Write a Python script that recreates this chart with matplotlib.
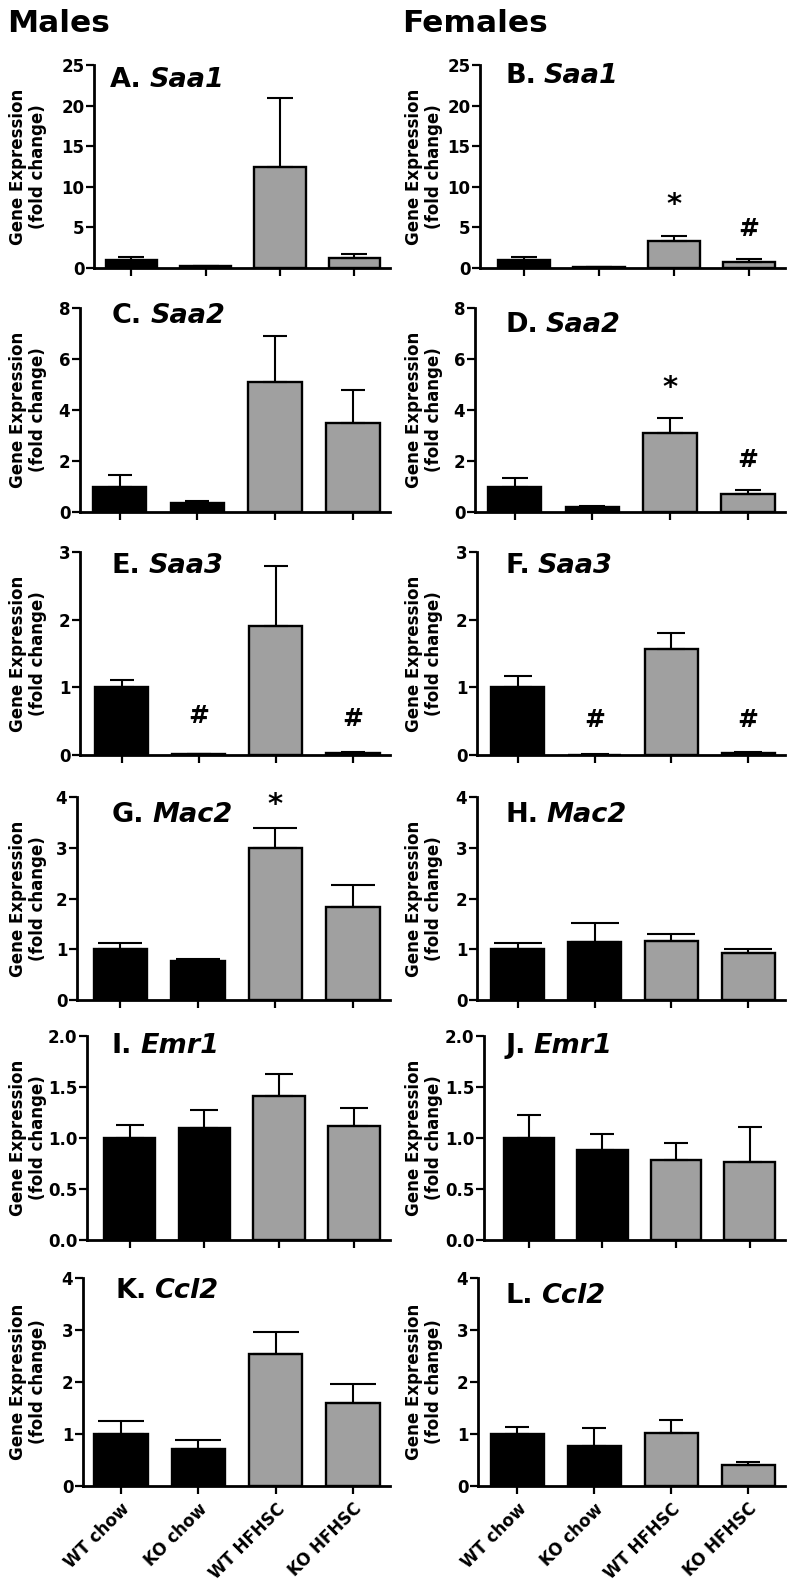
import matplotlib
matplotlib.use('Agg')
import matplotlib.pyplot as plt
import numpy as np

plt.rcParams['font.family'] = 'DejaVu Sans'
plt.rcParams['font.weight'] = 'bold'

# groups on the x axis
groups = ['WT chow', 'KO chow', 'WT HFHSC', 'KO HFHSC']
bar_colors = ['black', 'black', '#a0a0a0', '#a0a0a0']

# mean fold change and SEM (upper only)
saa1_m = [1.0, 0.25, 12.5, 1.2]
saa1_m_err = [0.4, 0.05, 8.4, 0.5]
saa1_f = [1.0, 0.1, 3.3, 0.75]
saa1_f_err = [0.3, 0.03, 0.65, 0.3]

saa2_m = [1.0, 0.35, 5.1, 3.5]
saa2_m_err = [0.45, 0.08, 1.8, 1.3]
saa2_f = [1.0, 0.2, 3.1, 0.7]
saa2_f_err = [0.32, 0.03, 0.6, 0.15]

saa3_m = [1.0, 0.01, 1.9, 0.03]
saa3_m_err = [0.11, 0.005, 0.9, 0.015]
saa3_f = [1.0, 0.005, 1.57, 0.03]
saa3_f_err = [0.17, 0.003, 0.23, 0.02]

mac2_m = [1.0, 0.77, 3.0, 1.84]
mac2_m_err = [0.12, 0.03, 0.39, 0.43]
mac2_f = [1.0, 1.15, 1.17, 0.92]
mac2_f_err = [0.12, 0.36, 0.14, 0.09]

emr1_m = [1.0, 1.1, 1.41, 1.12]
emr1_m_err = [0.13, 0.17, 0.22, 0.17]
emr1_f = [1.0, 0.88, 0.78, 0.76]
emr1_f_err = [0.23, 0.16, 0.17, 0.35]

ccl2_m = [1.0, 0.71, 2.54, 1.6]
ccl2_m_err = [0.25, 0.17, 0.42, 0.37]
ccl2_f = [1.0, 0.77, 1.02, 0.40]
ccl2_f_err = [0.14, 0.35, 0.24, 0.06]

ticks_saa1 = [0, 5, 10, 15, 20, 25]
ticks_saa2 = [0, 2, 4, 6, 8]
ticks_saa3 = [0, 1, 2, 3]
ticks_mac2 = [0, 1, 2, 3, 4]
ticks_emr1 = [0.0, 0.5, 1.0, 1.5, 2.0]
ticks_ccl2 = [0, 1, 2, 3, 4]

# significance marks: (bar index, height, symbol)
marks_saa1_f = [(2, 7.8, '*'), (3, 4.8, '#')]
marks_saa2_f = [(2, 4.85, '*'), (3, 2.05, '#')]
marks_saa3_m = [(1, 0.58, '#'), (3, 0.53, '#')]
marks_saa3_f = [(1, 0.52, '#'), (3, 0.52, '#')]
marks_mac2_m = [(2, 3.84, '*')]

panels = [
    ('A.', 'Saa1', saa1_m, saa1_m_err, ticks_saa1, []),
    ('B.', 'Saa1', saa1_f, saa1_f_err, ticks_saa1, marks_saa1_f),
    ('C.', 'Saa2', saa2_m, saa2_m_err, ticks_saa2, []),
    ('D.', 'Saa2', saa2_f, saa2_f_err, ticks_saa2, marks_saa2_f),
    ('E.', 'Saa3', saa3_m, saa3_m_err, ticks_saa3, marks_saa3_m),
    ('F.', 'Saa3', saa3_f, saa3_f_err, ticks_saa3, marks_saa3_f),
    ('G.', 'Mac2', mac2_m, mac2_m_err, ticks_mac2, marks_mac2_m),
    ('H.', 'Mac2', mac2_f, mac2_f_err, ticks_mac2, []),
    ('I.', 'Emr1', emr1_m, emr1_m_err, ticks_emr1, []),
    ('J.', 'Emr1', emr1_f, emr1_f_err, ticks_emr1, []),
    ('K.', 'Ccl2', ccl2_m, ccl2_m_err, ticks_ccl2, []),
    ('L.', 'Ccl2', ccl2_f, ccl2_f_err, ticks_ccl2, []),
]

# layout in pixels: spine x, xlim left, cap width, title x, title baseline
layout = [
    (94, -0.50, 27, 110, 87), (480, -0.59, 27, 505, 83),
    (80, -0.51, 25, 112, 323), (475, -0.51, 27, 505, 332),
    (80, -0.54, 25, 112, 573), (477, -0.53, 29, 505, 573),
    (77, -0.56, 45, 112, 822), (477, -0.53, 48, 505, 822),
    (87, -0.57, 28, 112, 1053), (484, -0.61, 25, 505, 1053),
    (83, -0.49, 46, 115, 1298), (478, -0.51, 25, 506, 1303),
]
rows = [(65, 268), (308, 512), (552, 755), (797, 1000), (1036, 1240), (1278, 1486)]

W, H = 794, 1589
fig = plt.figure(figsize=(W / 100, H / 100), dpi=100)
renderer = fig.canvas.get_renderer()
x = np.arange(4)

for i, (letter, gene, mean, err, ticks, marks) in enumerate(panels):
    col = i % 2
    top, bottom = rows[i // 2]
    spine, xl, cap, tx, ty = layout[i]
    right = 390 if col == 0 else 785
    ax = fig.add_axes([spine / W, 1 - bottom / H, (right - spine) / W, (bottom - top) / H])

    ax.bar(x, mean, width=0.69, color=bar_colors, edgecolor='black', linewidth=1.7, zorder=2)
    ax.errorbar(x, mean, yerr=[np.zeros(4), err], fmt='none', ecolor='black',
                elinewidth=1.5, capsize=cap / 2 / 1.389, capthick=1.5, zorder=3)

    for bi, yv, sym in marks:
        ax.text(bi, yv, sym, ha='center', va='center', fontsize=21 if sym == '*' else 18,
                fontweight='bold')

    ax.set_xlim(xl, 3.48)
    ax.set_ylim(0, ticks[-1])
    ax.set_yticks(ticks)
    if gene == 'Emr1':
        ax.set_yticklabels([f'{t:.1f}' for t in ticks])
    else:
        ax.set_yticklabels([f'{t:g}' for t in ticks])
    ax.set_xticks(x)
    if i >= 10:
        ax.set_xticklabels(groups, rotation=45, ha='right', va='top',
                           rotation_mode='anchor', fontsize=14)
    else:
        ax.set_xticklabels([])

    for s in ['top', 'right']:
        ax.spines[s].set_visible(False)
    for s in ['left', 'bottom']:
        ax.spines[s].set_linewidth(2.0)
    ax.tick_params(direction='out', length=6, width=1.6, labelsize=12, pad=1)
    ax.tick_params(axis='x', pad=4)

    # y label
    lx = 28 if col == 0 else 424
    fig.text(lx / W, 1 - (top + bottom) / 2 / H, 'Gene Expression\n(fold change)',
             rotation=90, ha='center', va='center', multialignment='center',
             fontsize=12, fontweight='bold', linespacing=1.15)

    # panel title: letter upright, gene italic
    t = fig.text(tx / W, 1 - ty / H, letter, fontsize=19.5, fontweight='bold',
                 ha='left', va='baseline')
    bb = t.get_window_extent(renderer)
    fig.text((bb.x1 + 8) / W, 1 - ty / H, gene, fontsize=19.5, fontweight='bold',
             style='italic', ha='left', va='baseline')

fig.text(7 / W, 1 - 32 / H, 'Males', fontsize=22.5, fontweight='bold', ha='left', va='baseline')
fig.text(402 / W, 1 - 32 / H, 'Females', fontsize=22.5, fontweight='bold', ha='left', va='baseline')

fig.savefig('out.png', dpi=100)
